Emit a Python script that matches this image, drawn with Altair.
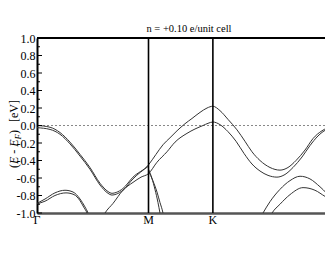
import altair as alt
import pandas as pd

# ---- data ----
kpt_names = ["Γ", "M", "K"]
kpt_pos = [0.0, 1.0, 1.5774]
k_end = 2.583          # visible right edge of the path (Γ at 2.732 is cut off)
y_ticks = [-1.0, -0.8, -0.6, -0.4, -0.2, 0.0, 0.2, 0.4, 0.6, 0.8, 1.0]
y_minor = [-0.9, -0.7, -0.5, -0.3, -0.1, 0.1, 0.3, 0.5, 0.7, 0.9]
title_text = "n = +0.10 e/unit cell"

a1_k = [0.0, 0.117, 0.206, 0.296, 0.386, 0.475, 0.565, 0.637, 0.673, 0.71, 0.771, 0.861, 1.0,
        1.067, 1.130, 1.193, 1.256, 1.327, 1.390, 1.462, 1.525, 1.577,
        1.641, 1.713, 1.794, 1.865, 1.928, 2.0, 2.090, 2.179, 2.251, 2.323, 2.404, 2.475, 2.556, 2.655, 2.732]
a1_e = [0.0, -0.02, -0.08, -0.19, -0.33, -0.48, -0.66, -0.755, -0.775, -0.765, -0.72, -0.59, -0.45,
        -0.33, -0.22, -0.14, -0.06, 0.02, 0.08, 0.15, 0.20, 0.22,
        0.17, 0.07, -0.05, -0.18, -0.30, -0.40, -0.48, -0.51, -0.48, -0.40, -0.28, -0.15, -0.06, -0.01, 0.0]

a2_k = [0.0, 0.117, 0.206, 0.296, 0.386, 0.475, 0.565, 0.637, 0.673, 0.71, 0.771, 0.861, 1.0]
a2_e = [-0.025, -0.045, -0.10, -0.21, -0.35, -0.50, -0.68, -0.775, -0.795, -0.785, -0.74, -0.61, -0.465]

b_k = [0.592, 0.610, 0.682, 0.771, 0.861, 0.933, 1.0, 1.076, 1.166, 1.238, 1.345, 1.417, 1.489, 1.534, 1.577,
       1.641, 1.713, 1.785, 1.857, 1.928, 2.0, 2.072, 2.152, 2.224, 2.296, 2.377, 2.448, 2.520, 2.592, 2.655, 2.732]
b_e = [-1.04, -1.0, -0.89, -0.74, -0.65, -0.59, -0.55, -0.42, -0.30, -0.19, -0.09, -0.04, 0.0, 0.025, 0.04,
       0.01, -0.07, -0.18, -0.32, -0.44, -0.52, -0.57, -0.59, -0.56, -0.48, -0.36, -0.23, -0.12, -0.05, -0.03, -0.02]

la_k = [2.009, 2.027, 2.090, 2.179, 2.269, 2.359, 2.448, 2.538, 2.655, 2.732]
la_e = [-1.04, -1.0, -0.87, -0.73, -0.63, -0.58, -0.61, -0.70, -0.84, -0.89]
lb_k = [2.090, 2.108, 2.179, 2.269, 2.386, 2.493, 2.583, 2.655, 2.732]
lb_e = [-1.04, -1.0, -0.90, -0.79, -0.71, -0.74, -0.81, -0.86, -0.89]

lc1_k = [0.0, 0.072, 0.161, 0.251, 0.323, 0.386, 0.430, 0.457, 0.466]
lc1_e = [-0.89, -0.84, -0.77, -0.74, -0.76, -0.84, -0.93, -1.0, -1.04]
lc2_k = [0.0, 0.072, 0.161, 0.260, 0.332, 0.386, 0.422, 0.448, 0.457]
lc2_e = [-0.895, -0.865, -0.80, -0.77, -0.79, -0.86, -0.94, -1.0, -1.04]

d1_k = [1.0, 1.030, 1.058, 1.085, 1.103, 1.112]
d1_e = [-0.50, -0.60, -0.73, -0.88, -1.0, -1.06]
d2_k = [1.0, 1.039, 1.076, 1.103, 1.130, 1.139]
d2_e = [-0.52, -0.63, -0.76, -0.88, -1.0, -1.06]

curves = {"A1": (a1_k, a1_e), "A2": (a2_k, a2_e), "B": (b_k, b_e),
          "La": (la_k, la_e), "Lb": (lb_k, lb_e), "Lc1": (lc1_k, lc1_e),
          "Lc2": (lc2_k, lc2_e), "D1": (d1_k, d1_e), "D2": (d2_k, d2_e)}

rows = []
for name, (ks, es) in curves.items():
    for i, (kk, ee) in enumerate(zip(ks, es)):
        rows.append({"curve": name, "k": kk, "E": ee, "i": i})
bands = pd.DataFrame(rows)

FONT = "Liberation Serif"
xs = alt.Scale(domain=[0, k_end], nice=False, zero=False)
ys = alt.Scale(domain=[-1, 1], nice=False, zero=False)
xaxis = alt.Axis(title=None, labels=False, ticks=False, grid=False,
                 domainColor="#555", domainWidth=2.5)
yaxis = alt.Axis(title=None, values=y_ticks, grid=False, ticks=False, tickSize=0,
                 domainColor="black", domainWidth=2, labelPadding=2,
                 labelFont=FONT, labelFontSize=12, labelColor="black",
                 labelExpr="replace(format(datum.value, '.1f'), '\u2212', '-')")
X = alt.X("k:Q", scale=xs, axis=xaxis)
Y = alt.Y("E:Q", scale=ys, axis=yaxis)

lines = alt.Chart(bands).mark_line(interpolate="monotone", clip=True,
                                   color="#333", strokeWidth=1).encode(
    x=X, y=Y, detail="curve:N", order="i:Q")

fermi = alt.Chart(pd.DataFrame({"E": [0.0]})).mark_rule(
    color="#888", strokeDash=[2, 2], strokeWidth=1).encode(y=Y)

vlines = alt.Chart(pd.DataFrame({"k": kpt_pos[1:]})).mark_rule(
    color="black", strokeWidth=1.6).encode(x=X)

top = alt.Chart(pd.DataFrame({"E": [1.0]})).mark_rule(
    color="black", strokeWidth=2).encode(y=Y)

major = alt.Chart(pd.DataFrame({"E": y_ticks})).mark_rule(
    color="black", strokeWidth=1).encode(y=Y, x=alt.value(0), x2=alt.value(5))
minor = alt.Chart(pd.DataFrame({"E": y_minor})).mark_rule(
    color="black", strokeWidth=1).encode(y=Y, x=alt.value(0), x2=alt.value(3))

klabels = alt.Chart(pd.DataFrame({"k": kpt_pos, "name": kpt_names})).mark_text(
    font=FONT, fontSize=12, baseline="alphabetic", color="black").encode(
    x=X, y=alt.value(186), text="name:N")

title = alt.Chart(pd.DataFrame({"t": [title_text]})).mark_text(
    font=FONT, fontSize=10.5, baseline="middle", align="center", color="black").encode(
    x=alt.value(152), y=alt.value(-9.5), text="t:N")

# y-axis title pieces: (E - E_F)  [eV], rotated
yt_text = ["(", "E", "-", "E", "F", ")", "[eV]"]
yt_style = ["normal", "italic", "normal", "italic", "italic", "normal", "normal"]
yt_size = [12, 12, 12, 12, 9, 12, 12]
yt_y = [130, 126, 115.7, 108.7, 101.4, 95.9, 84]
yt_x = [-19.5, -19.5, -19.5, -19.5, -16.5, -19.5, -19.5]
ytitle_layers = []
for t, st, sz, yy, xx in zip(yt_text, yt_style, yt_size, yt_y, yt_x):
    ytitle_layers.append(
        alt.Chart(pd.DataFrame({"t": [t]})).mark_text(
            font=FONT, fontSize=sz, fontStyle=st, angle=270, align="left",
            baseline="alphabetic", color="black").encode(
            x=alt.value(xx), y=alt.value(yy), text="t:N"))

chart = alt.layer(fermi, lines, vlines, top, major, minor, klabels, title,
                  *ytitle_layers).properties(
    width=288, height=175,
    autosize=alt.AutoSizeParams(type="none"),
    padding={"left": 29, "top": 30, "right": 0, "bottom": 30},
    background="white",
).configure_view(stroke=None)

chart.save("out.html", embed_options={"renderer": "svg", "actions": False})
